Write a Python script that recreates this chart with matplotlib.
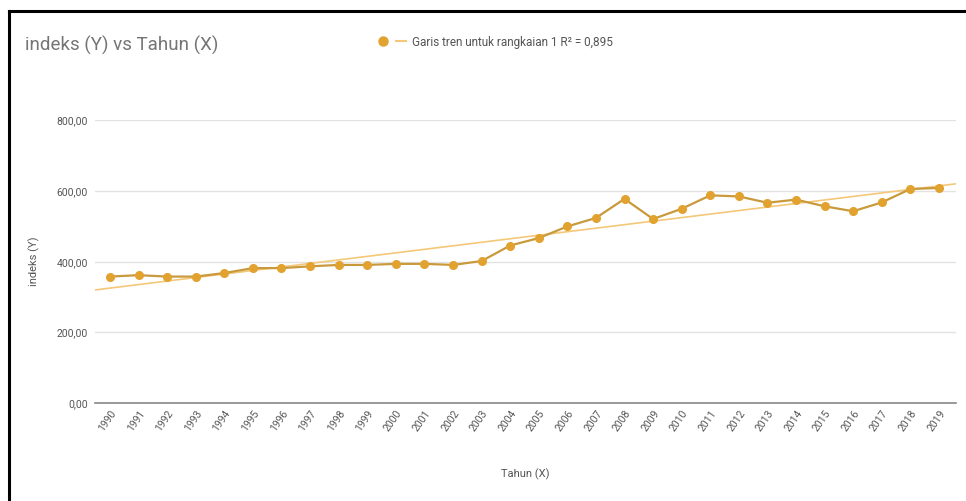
import matplotlib.pyplot as plt
import numpy as np
from matplotlib.lines import Line2D
from matplotlib.legend_handler import HandlerTuple
from matplotlib.ticker import FuncFormatter

# Data
years = [str(y) for y in range(1990, 2020)]
indeks = [
    358, 362, 358, 358, 368, 382, 382, 387, 391, 391,
    394, 394, 391, 402, 446, 467, 500, 524, 578, 521,
    550, 588, 585, 567, 576, 557, 543, 568, 606, 609,
]
y_ticks = [0, 200, 400, 600, 800]
r2_label = "Garis tren untuk rangkaian 1 R² = 0,895"

plt.rcParams['font.family'] = ['Roboto', 'DejaVu Sans']

point_color = '#E2A230'
line_color = '#C99A3C'
trend_color = '#F4C878'

fig = plt.figure(figsize=(9.66, 5.01), dpi=100)
ax = fig.add_axes([0.0983, 0.1956, 0.8913, 0.5639])

x = np.arange(len(years))
xlim = (-0.525, 29.595)

# Linear trend line across the whole plot width
slope, intercept = np.polyfit(x, indeks, 1)
trend_x = np.array(xlim)
ax.plot(trend_x, slope * trend_x + intercept, color=trend_color, lw=1.2, zorder=2)

ax.plot(x, indeks, color=line_color, lw=1.6, zorder=3)
ax.plot(x, indeks, 'o', color=point_color, ms=5.5, mec=point_color, zorder=4)

ax.set_xlim(*xlim)
ax.set_ylim(0, 800)
ax.set_yticks(y_ticks)
ax.yaxis.set_major_formatter(FuncFormatter(lambda v, p: f"{v:.2f}".replace('.', ',')))
ax.set_xticks(x)
ax.set_xticklabels(years, rotation=55, ha='right', rotation_mode='anchor')

ax.grid(axis='y', color='#E2E2E2', lw=1)
ax.set_axisbelow(True)
for side in ['top', 'right', 'left']:
    ax.spines[side].set_visible(False)
ax.spines['bottom'].set_color('#888888')
ax.spines['bottom'].set_linewidth(1.2)
ax.tick_params(axis='both', length=0, labelsize=7.5, colors='#555555')
ax.tick_params(axis='x', pad=4)
ax.tick_params(axis='y', pad=5)

ax.set_xlabel('Tahun (X)', fontsize=8, color='#555555', labelpad=25)
ax.set_ylabel('indeks (Y)', fontsize=8, color='#555555', labelpad=12)

fig.text(0.026, 0.91, 'indeks (Y) vs Tahun (X)', fontsize=13.5, color='#757575', va='center')

marker_handle = Line2D([], [], marker='o', ls='none', color=point_color, ms=6.5)
dash_handle = Line2D([], [], color=trend_color, lw=1.5)
fig.legend([(marker_handle, dash_handle)], [r2_label],
           handler_map={tuple: HandlerTuple(ndivide=None, pad=0.6)},
           loc='center', bbox_to_anchor=(0.513, 0.916), frameon=False,
           fontsize=8.5, labelcolor='#555555', handlelength=2.4, handletextpad=0.5)

# Frame lines along the top and left edges
fig.add_artist(Line2D([0.0095, 1.0], [0.978, 0.978], color='black', lw=2.2, transform=fig.transFigure))
fig.add_artist(Line2D([0.0095, 0.0095], [0.0, 0.978], color='black', lw=2.2, transform=fig.transFigure))

plt.savefig('out.png', dpi=100)
